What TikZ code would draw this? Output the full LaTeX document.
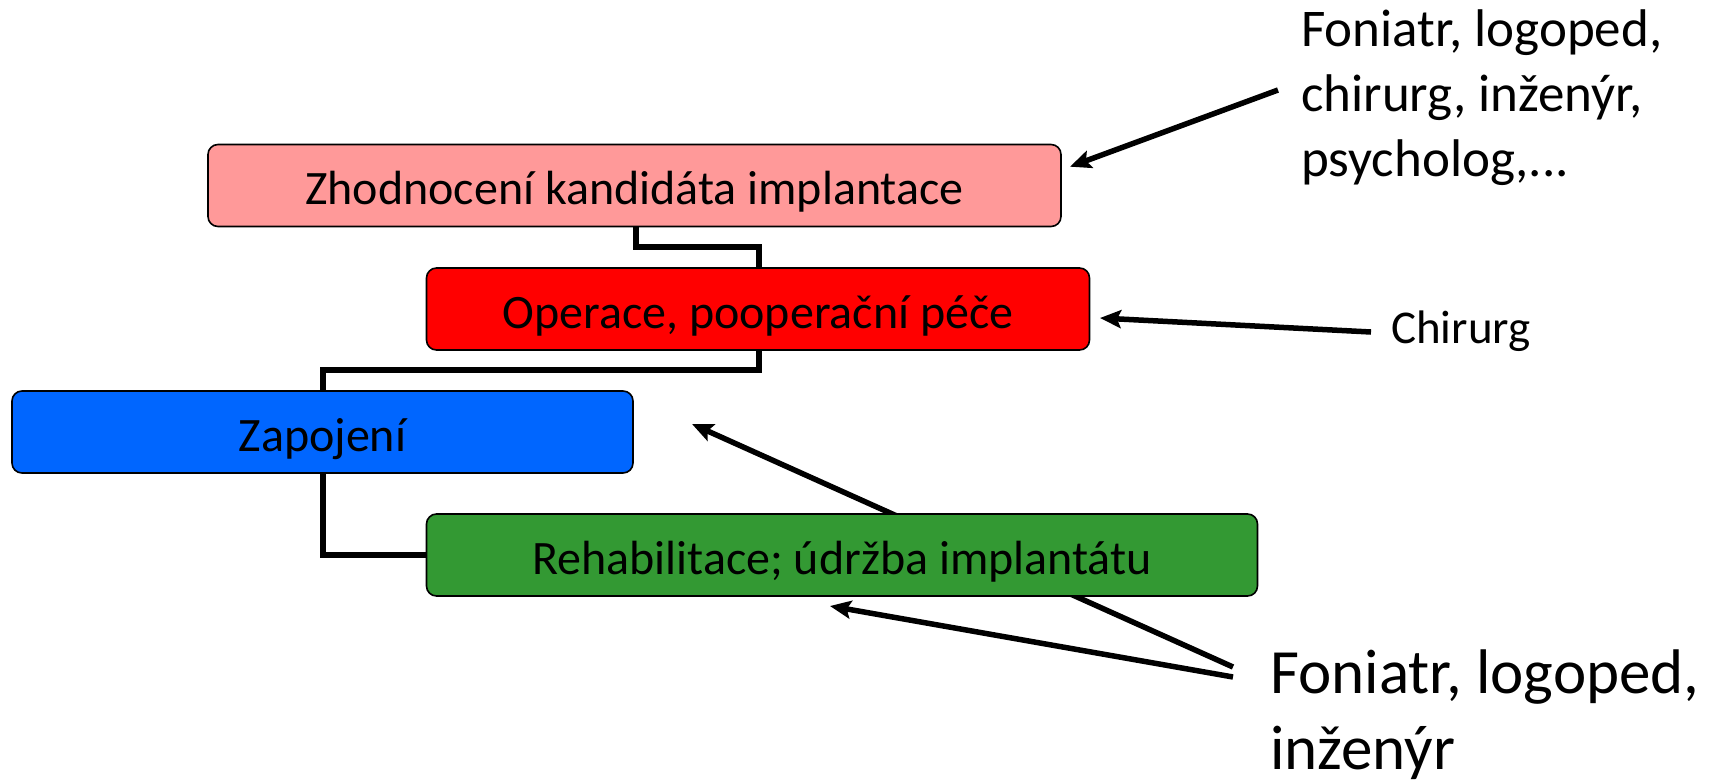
\documentclass[tikz,border=0pt]{standalone}
\usepackage{fontspec}
\setmainfont{Carlito}
\usetikzlibrary{arrows.meta}
\definecolor{boxpink}{HTML}{FF9999}
\definecolor{boxred}{HTML}{FF0000}
\definecolor{boxblue}{HTML}{0066FF}
\definecolor{boxgreen}{HTML}{339933}
\tikzset{
  stagebox/.style={draw=black, line width=1.6pt, rounded corners=10pt, minimum height=82pt,
    inner sep=0pt, text height=41pt, text depth=3pt,
    font=\fontsize{48}{57}\selectfont, text=black},
  elbow/.style={line width=6pt, draw=black},
  pointer/.style={line width=5.5pt, draw=black, -{Stealth[length=21pt,width=18pt,inset=4pt]}},
  linetext/.style={anchor=base west, inner sep=0pt, text=black},
}
\begin{document}
\begin{tikzpicture}[x=1pt,y=-1pt]
\useasboundingbox[fill=white] (0,0) rectangle (1709,782);

% arrow passing behind the green box
\coordinate (a3s) at (1233,667);
\coordinate (a3e) at (692,424);
\draw[pointer] (a3s) -- (a3e);

% connectors drawn first, boxes on top
\coordinate (c1) at (636,247);
\coordinate (c2) at (759,370);
\draw[elbow] (636,226) -- (c1) -| (759,268);
\draw[elbow] (759,350) -- (c2) -| (322.5,391);
\draw[elbow] (322.5,473) |- (426.5,555);

\node[stagebox, fill=boxpink, minimum width=853pt] (pink) at (634.5,185.5) {Zhodnocení kandidáta implantace};
\node[stagebox, fill=boxred, minimum width=663pt] (red) at (758,309) {Operace, pooperační péče};
\node[stagebox, fill=boxblue, minimum width=621pt] (blue) at (322.5,432) {Zapojení};
\node[stagebox, fill=boxgreen, minimum width=831pt] (green) at (842,555) {Rehabilitace; údržba implantátu};

% texts
\node[linetext, font=\fontsize{53}{64}\selectfont] (t1) at (1301,46.7) {Foniatr, logoped,};
\node[linetext, font=\fontsize{53}{64}\selectfont] (t2) at (1301,111.7) {chirurg, inženýr,};
\node[linetext, font=\fontsize{53}{64}\selectfont] (t3) at (1301,176.7) {psycholog,...};
\node[linetext, font=\fontsize{47}{56}\selectfont] (chir) at (1391,343) {Chirurg};
\node[linetext, font=\fontsize{63}{76}\selectfont] (b1) at (1270,693) {Foniatr, logoped,};
\node[linetext, font=\fontsize{63}{76}\selectfont] (b2) at (1270,769) {inženýr};

% arrows
\coordinate (a1s) at (1278,90);
\coordinate (a1e) at (1070,166.7);
\draw[pointer] (a1s) -- (a1e);
\coordinate (a2s) at (1371,332);
\coordinate (a2e) at (1100,318);
\draw[pointer] (a2s) -- (a2e);
\coordinate (a4s) at (1233,677);
\coordinate (a4e) at (830,606);
\draw[pointer] (a4s) -- (a4e);
\end{tikzpicture}
\end{document}
